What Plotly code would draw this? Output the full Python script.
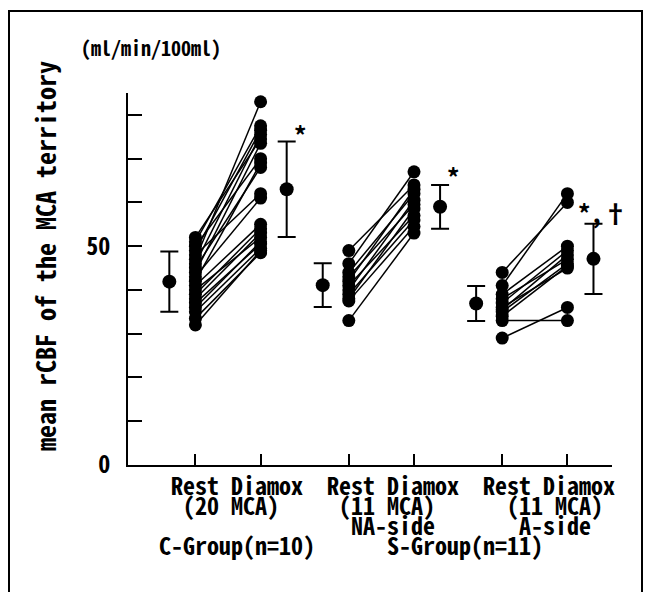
import plotly.graph_objects as go

# ---------------- data ----------------
c_rest = [52, 51, 50, 49, 48, 47, 46, 45, 44, 43, 42, 41, 40, 39, 38, 37, 36, 35, 33.5, 32]
c_diamox = [74.5, 77.5, 70, 76.5, 62, 83, 75.5, 68, 73.5, 61, 69, 55, 52, 54, 53, 50.5, 51, 49.5, 48.5, 49]
na_rest = [49, 46, 44, 43, 42, 41, 40, 39, 38, 37.5, 33]
na_diamox = [64, 67, 62, 59.5, 63, 57, 60.5, 56, 58.5, 54.5, 53]
a_rest = [44, 41, 39, 38, 37, 36, 35.5, 35, 34, 33, 29]
a_diamox = [60, 62, 50, 47, 49, 45, 48, 46, 45.5, 33, 36]

mean_rest = [41.9, 41.1, 36.9]
sd_rest = [6.9, 5.0, 4.0]
mean_diamox = [63.0, 59.0, 47.1]
sd_diamox = [10.9, 5.0, 8.0]

cond_labels = ["Rest", "Diamox"]
mca_labels = ["(20 MCA)", "(11 MCA)", "(11 MCA)"]
side_labels = ["", "NA-side", "A-side"]
group_labels = ["C-Group(n=10)", "S-Group(n=11)"]
sig_labels = ["*", "*", "*,\u2020"]
y_title = "mean rCBF of the MCA territory"
unit_label = "(ml/min/100ml)"
y_ticks = [0, 10, 20, 30, 40, 50, 60, 70, 80]
y_ticklabels = ["0", "", "", "", "", "50", "", "", ""]

# ---------------- layout helpers ----------------
W, H = 649, 592
L_PX, R_PX, T_PX, B_PX = 128, 612, 93, 465
XMIN, XMAX = -0.034, 7.39
YMIN, YMAX = 0, 85
STEP = 2.353
MOFF = 0.4
FONT = "Noto Sans Mono CJK JP, DejaVu Sans Mono, monospace"
FS = 24          # glyph size of the x labels
CW = 12.0        # monospace advance at FS
ROW_GAP = 20.0   # distance between label rows (px)


def px_x(px):
    return XMIN + (px - L_PX) / (R_PX - L_PX) * (XMAX - XMIN)


def paper_y(py):
    return (B_PX - py) / (B_PX - T_PX)


def paper_x(px):
    return (px - L_PX) / (R_PX - L_PX)


rest_x = [1 + g * STEP for g in range(3)]
diam_x = [r + 1 for r in rest_x]

pairs = [(c_rest, c_diamox), (na_rest, na_diamox), (a_rest, a_diamox)]

fig = go.Figure()
for g, (rv, dv) in enumerate(pairs):
    xs, ys = [], []
    for r, d in zip(rv, dv):
        xs += [rest_x[g], diam_x[g], None]
        ys += [r, d, None]
    fig.add_trace(go.Scatter(
        x=xs, y=ys, mode="lines+markers",
        line=dict(color="black", width=1.5),
        marker=dict(color="black", size=13),
        showlegend=False, cliponaxis=False, hoverinfo="skip"))

mx, my, msd = [], [], []
for g in range(3):
    mx += [rest_x[g] - MOFF, diam_x[g] + MOFF]
    my += [mean_rest[g], mean_diamox[g]]
    msd += [sd_rest[g], sd_diamox[g]]
fig.add_trace(go.Scatter(
    x=mx, y=my, mode="markers",
    marker=dict(color="black", size=14),
    error_y=dict(type="data", array=msd, visible=True, color="black", thickness=2, width=9),
    showlegend=False, cliponaxis=False))

# ---------------- x-label block: one monospace text, rows on a char grid ----------------
X0 = 157  # left edge of the grid (px)
rest_px = [195.4 + (rx - 1) * 65.2 - 2 for rx in rest_x]
diam_px = [195.4 + (dx - 1) * 65.2 + 8 for dx in diam_x]
rows = [
    [(cond_labels[0], rest_px[g]) for g in range(3)] + [(cond_labels[1], diam_px[g]) for g in range(3)],
    list(zip(mca_labels, [225, 385, 549])),
    [(s, c) for s, c in zip(side_labels, [225, 385, 547]) if s],
    list(zip(group_labels, [235, 465])),
]
lines = []
for row in rows:
    chars = [" "] * 40
    for text, center in row:
        col = int(round((center - len(text) * CW / 2 - X0) / CW))
        col = max(col, 0)
        for i, ch in enumerate(text):
            chars[col + i] = ch
    line = "".join(chars).rstrip().replace(" ", "\u00a0")
    lines.append('<span style="font-size:%dpx">%s</span>' % (FS, line))
label_block = "<br>".join(lines)

ann = []
ann.append(dict(x=paper_x(X0), y=paper_y(514), xref="paper", yref="paper",
                text=label_block, showarrow=False, xanchor="left", yanchor="middle",
                align="left",
                font=dict(family=FONT, size=ROW_GAP / 1.3, color="black", weight="bold")))
# significance marks
sig_px = [(300, 134), (453, 176), (603, 212)]
for i in range(3):
    ann.append(dict(x=px_x(sig_px[i][0]), y=paper_y(sig_px[i][1]), xref="x", yref="paper",
                    text=sig_labels[i], showarrow=False, xanchor="center", yanchor="middle",
                    font=dict(family=FONT, size=25, color="black", weight="bold")))
# unit label
ann.append(dict(x=paper_x(151), y=paper_y(47), xref="paper", yref="paper",
                text=unit_label, showarrow=False, xanchor="center", yanchor="middle",
                font=dict(family=FONT, size=20, color="black", weight="bold")))
# y title
ann.append(dict(x=paper_x(44), y=paper_y(256), xref="paper", yref="paper",
                text=y_title, textangle=-90, showarrow=False, xanchor="center", yanchor="middle",
                font=dict(family=FONT, size=26, color="black", weight="bold")))

fig.update_layout(
    width=W, height=H,
    margin=dict(l=L_PX, r=W - R_PX, t=T_PX, b=H - B_PX, pad=0),
    paper_bgcolor="white", plot_bgcolor="white",
    annotations=ann,
    shapes=[dict(type="rect", xref="paper", yref="paper",
                 x0=paper_x(9), x1=paper_x(642), y0=paper_y(600), y1=paper_y(11),
                 line=dict(color="black", width=2))],
    xaxis=dict(range=[XMIN, XMAX], showgrid=False, zeroline=False,
               showline=True, linecolor="black", linewidth=2,
               tickvals=rest_x + diam_x, ticktext=[""] * 6,
               ticks="inside", ticklen=11, tickwidth=1.5, tickcolor="black"),
    yaxis=dict(range=[YMIN, YMAX], showgrid=False, zeroline=False,
               showline=True, linecolor="black", linewidth=2,
               tickvals=y_ticks, ticktext=y_ticklabels,
               ticks="inside", ticklen=14, tickwidth=1.5, tickcolor="black",
               ticklabelstandoff=11,
               tickfont=dict(family=FONT, size=24, color="black", weight="bold")),
)

fig.write_html("out.html", config={"displayModeBar": False},
               post_script="document.body.style.margin='0';document.body.style.overflow='hidden';")
